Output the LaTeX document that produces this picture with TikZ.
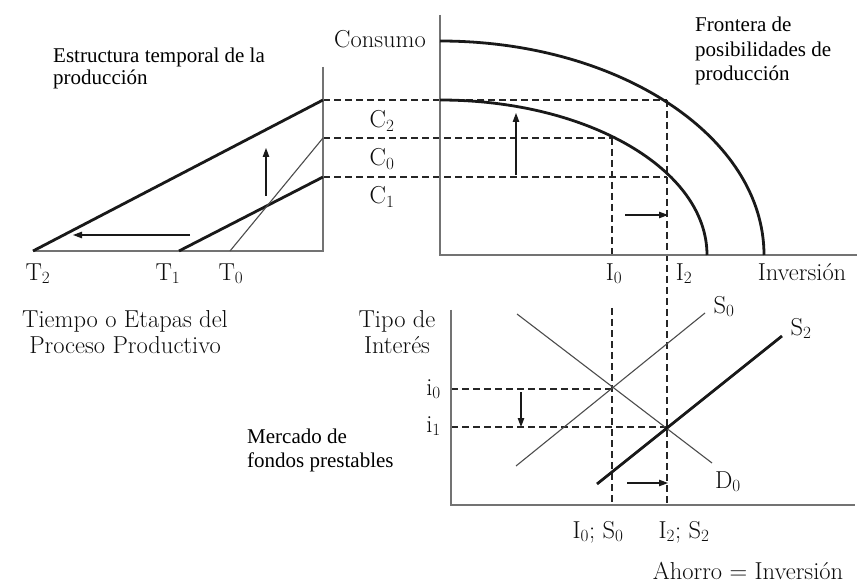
\documentclass[tikz,border=0pt]{standalone}
\usepackage{fontspec}
\newfontfamily\notefont{Liberation Serif}
\usetikzlibrary{arrows.meta}
\begin{document}
\begin{tikzpicture}[x=1pt,y=1pt,
  axis/.style={draw=black!55, line width=1.4pt},
  thickline/.style={line width=2.8pt, black!90},
  thinline/.style={line width=1.1pt, black!70},
  guide/.style={line width=1.1pt, black!85, dash pattern=on 7pt off 4pt},
  shiftarrow/.style={line width=1.1pt, black!90, -{Triangle[length=9pt,width=6.5pt]}},
  big/.style={font=\fontsize{24.5}{29}\selectfont, inner sep=0pt, text=black!95, anchor=base},
  note/.style={font=\notefont\fontsize{21}{24}\selectfont, inner sep=0pt, text=black, anchor=base west}]
\useasboundingbox (0,0) rectangle (860,-588);
\fill[white] (0,0) rectangle (860,-588);
% ---------- coordinates ----------
% left panel
\coordinate (Ltop) at (323,-67);
\coordinate (Lo) at (323,-251);
\coordinate (T2p) at (33,-251);
\coordinate (T1p) at (179,-251);
\coordinate (T0p) at (230,-251);
\coordinate (LC2) at (323,-100);
\coordinate (LC0) at (323,-138);
\coordinate (LC1) at (323,-177);
\coordinate (upA) at (266,-196);
\coordinate (upB) at (266,-148);
\coordinate (leftA) at (190,-235);
\coordinate (leftB) at (73,-235);
% middle panel
\coordinate (Mtop) at (440,-15);
\coordinate (Mo) at (440,-255);
\coordinate (Mend) at (857,-255);
\coordinate (outerTop) at (440,-41);
\coordinate (innerTop) at (440,-100);
\coordinate (P2) at (667,-100);
\coordinate (P0) at (612,-138);
\coordinate (P1) at (667,-177);
\coordinate (I0p) at (612,-255);
\coordinate (I2low) at (667,-505);
\coordinate (mupA) at (516,-175);
\coordinate (mupB) at (516,-113);
\coordinate (mrA) at (625,-215);
\coordinate (mrB) at (668,-215);
% lower panel
\coordinate (Btop) at (451,-310);
\coordinate (Bo) at (451,-505);
\coordinate (Bend) at (855,-505);
\coordinate (I0top) at (612,-308);
\coordinate (I0bot) at (612,-505);
\coordinate (i0l) at (451,-389);
\coordinate (E0) at (612,-389);
\coordinate (i1l) at (451,-427);
\coordinate (E2) at (668,-427);
\coordinate (D0a) at (517,-314);
\coordinate (D0b) at (712,-463);
\coordinate (S0a) at (516,-466);
\coordinate (S0b) at (705,-313);
\coordinate (S2a) at (597,-484);
\coordinate (S2b) at (782,-336);
\coordinate (dnA) at (521,-392);
\coordinate (dnB) at (521,-427);
\coordinate (brA) at (627,-483);
\coordinate (brB) at (668,-483);
% ---------- guides ----------
\draw[guide] (LC2) -- (P2);
\draw[guide] (LC0) -- (P0);
\draw[guide] (LC1) -- (P1);
\draw[guide] (P0) -- (I0p);
\draw[guide] (P2) -- (I2low);
\draw[guide] (I0top) -- (I0bot);
\draw[guide] (i0l) -- (E0);
\draw[guide] (i1l) -- (E2);
% ---------- axes ----------
\draw[axis] (Ltop) -- (Lo) -- (T2p);
\draw[axis] (Mtop) -- (Mo) -- (Mend);
\draw[axis] (Btop) -- (Bo) -- (Bend);
% ---------- curves and lines ----------
\draw[thickline] (T2p) -- (LC2);
\draw[thickline] (T1p) -- (LC1);
\draw[thinline] (T0p) -- (LC0);
\draw[thickline] (outerTop) arc[start angle=90, end angle=0, x radius=324pt, y radius=214pt];
\draw[thickline] (innerTop) arc[start angle=90, end angle=0, x radius=267pt, y radius=155pt];
\draw[thinline] (D0a) -- (D0b);
\draw[thinline] (S0a) -- (S0b);
\draw[thickline] (S2a) -- (S2b);
% ---------- arrows ----------
\draw[shiftarrow] (upA) -- (upB);
\draw[shiftarrow] (leftA) -- (leftB);
\draw[shiftarrow] (mupA) -- (mupB);
\draw[shiftarrow] (mrA) -- (mrB);
\draw[shiftarrow] (dnA) -- (dnB);
\draw[shiftarrow] (brA) -- (brB);
% ---------- labels ----------
\node[note] (est1) at (53,-63) {Estructura temporal de la};
\node[note] (est2) at (53,-85) {producción};
\node[note] (fr1) at (695,-32) {Frontera de};
\node[note] (fr2) at (695,-56.5) {posibilidades de};
\node[note] (fr3) at (695,-81) {producción};
\node[note] (mf1) at (247,-443) {Mercado de};
\node[note] (mf2) at (247,-467) {fondos prestables};
\node[big] (cons) at (380,-48) {Consumo};
\node[big] (c2) at (382,-128) {C\textsubscript{2}};
\node[big] (c0) at (382,-166) {C\textsubscript{0}};
\node[big] (c1) at (382,-204) {C\textsubscript{1}};
\node[big] (t2) at (38,-280) {T\textsubscript{2}};
\node[big] (t1) at (168,-280) {T\textsubscript{1}};
\node[big] (t0) at (231,-280) {T\textsubscript{0}};
\node[big] (lI0) at (614,-280) {I\textsubscript{0}};
\node[big] (lI2) at (684,-280) {I\textsubscript{2}};
\node[big] (inv) at (802,-280) {Inversión};
\node[big] (tp1) at (125,-327) {Tiempo o Etapas del};
\node[big] (tp2) at (125,-353) {Proceso Productivo};
\node[big] (ti1) at (397,-327) {Tipo de};
\node[big] (ti2) at (397,-353) {Interés};
\node[big, anchor=base east] (li0) at (441,-395) {i\textsubscript{0}};
\node[big, anchor=base east] (li1) at (441,-432) {i\textsubscript{1}};
\node[big] (ls0) at (724,-313) {S\textsubscript{0}};
\node[big] (ls2) at (801,-335) {S\textsubscript{2}};
\node[big] (ld0) at (728,-488) {D\textsubscript{0}};
\node[big] (lis0) at (598,-538) {I\textsubscript{0}; S\textsubscript{0}};
\node[big] (lis2) at (684,-538) {I\textsubscript{2}; S\textsubscript{2}};
\node[big] (ahorro) at (748,-579) {Ahorro = Inversión};
\end{tikzpicture}
\end{document}
